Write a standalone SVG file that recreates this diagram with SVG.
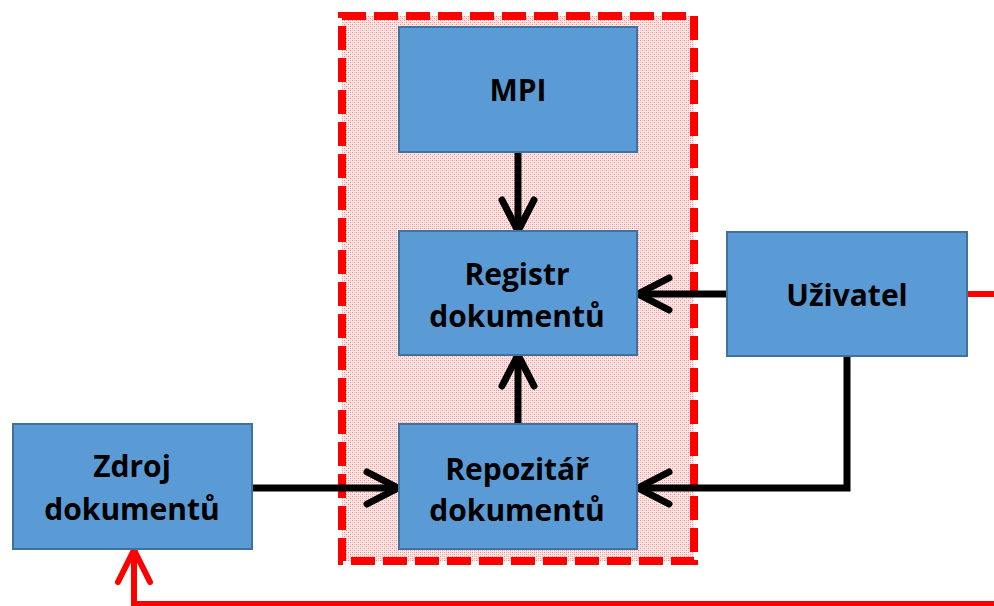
<svg xmlns="http://www.w3.org/2000/svg" width="994" height="606" viewBox="0 0 994 606">
  <style>
    .box { fill: #5B9BD5; stroke: #41719C; stroke-width: 2; }
    .lbl { font-family: "Open Sans", "Noto Sans", "Liberation Sans", sans-serif; font-weight: 700; font-size: 30px; fill: #000; text-anchor: middle; }
    .conn { fill: none; stroke: #000; stroke-width: 7; stroke-linejoin: miter; }
    .red { fill: none; stroke: #FF0000; stroke-width: 6; stroke-linejoin: miter; }
  </style>
  <defs>
    <pattern id="dots" width="4" height="4" patternUnits="userSpaceOnUse">
      <rect width="4" height="4" fill="#fde6e6"/>
      <rect x="0" y="0" width="1" height="1" fill="#f08e8e"/>
      <rect x="2" y="2" width="1" height="1" fill="#f08e8e"/>
      <rect x="2" y="0" width="1" height="1" fill="#f6b8b8"/>
      <rect x="0" y="2" width="1" height="1" fill="#f6b8b8"/>
    </pattern>
    <marker id="ah" markerUnits="userSpaceOnUse" orient="auto" refX="0" refY="0" markerWidth="80" markerHeight="80" viewBox="-40 -40 80 80" overflow="visible">
      <path d="M-27,-16 L4,0 L-27,16" fill="none" stroke="#000" stroke-width="7" stroke-linecap="round" stroke-linejoin="miter"/>
    </marker>
    <marker id="ahr" markerUnits="userSpaceOnUse" orient="auto" refX="0" refY="0" markerWidth="80" markerHeight="80" viewBox="-40 -40 80 80" overflow="visible">
      <path d="M-28,-16 L4,0 L-28,16" fill="none" stroke="#FF0000" stroke-width="6" stroke-linecap="round" stroke-linejoin="miter"/>
    </marker>
  </defs>
  <rect width="994" height="606" fill="#fff"/>

  <g id="boundary">
    <rect x="342" y="16" width="352" height="545" fill="url(#dots)" stroke="#FF0000" stroke-width="8" stroke-dasharray="24 8"/>
  </g>

  <g id="connectors">
    <path class="conn" d="M518,152 V227" marker-end="url(#ah)"/>
    <path class="conn" d="M727,294 H642" marker-end="url(#ah)"/>
    <path class="conn" d="M518,424 V359" marker-end="url(#ah)"/>
    <path class="conn" d="M252,488 H394" marker-end="url(#ah)"/>
    <path class="conn" d="M847,356 V488 H642" marker-end="url(#ah)"/>
    <path class="red" d="M967,294 H1010 V604 H134 V554" marker-end="url(#ahr)"/>
  </g>

  <g id="mpi">
    <rect class="box" x="399" y="27" width="238" height="125"/>
    <text class="lbl" x="518" y="101">MPI</text>
  </g>
  <g id="registr">
    <rect class="box" x="399" y="231" width="238" height="124"/>
    <text class="lbl" x="517" y="285">Registr</text>
    <text class="lbl" x="517" y="327">dokumentů</text>
  </g>
  <g id="repozitar">
    <rect class="box" x="399" y="424" width="238" height="125"/>
    <text class="lbl" x="517" y="480">Repozitář</text>
    <text class="lbl" x="517" y="521">dokumentů</text>
  </g>
  <g id="zdroj">
    <rect class="box" x="13" y="424" width="239" height="125"/>
    <text class="lbl" x="132" y="477">Zdroj</text>
    <text class="lbl" x="132" y="520">dokumentů</text>
  </g>
  <g id="uzivatel">
    <rect class="box" x="727" y="232" width="240" height="124"/>
    <text class="lbl" x="847" y="306">Uživatel</text>
  </g>
</svg>
